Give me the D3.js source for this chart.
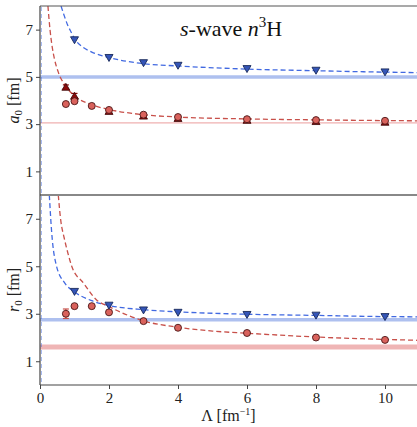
<!DOCTYPE html>
<html lang="en">
<head>
<meta charset="UTF-8">
<title>s-wave n3H</title>
<script src="https://d3js.org/d3.v7.min.js"></script>
<style>
    body { margin: 0; background: #fff; }
    .tick text { font-size: 14px; fill: #222; }
    .tick line { stroke: #444; }
</style>
</head>
<body>
<svg width="417" height="427"></svg>
<script>
    // cutoff values of the points
    const lamA = [0.75, 1, 1.5, 2, 3, 4, 6, 8, 10];
    const lamB = [1, 2, 3, 4, 6, 8, 10];
    const lamT = [0.75, 1, 2, 3, 4, 6, 8, 10];

    // top panel: a0
    const a0Blue = [6.55, 5.8, 5.58, 5.47, 5.33, 5.26, 5.19];
    const a0Red = [3.85, 3.97, 3.77, 3.6, 3.4, 3.3, 3.21, 3.17, 3.14];
    const a0DarkRed = [4.58, 4.2, 3.56, 3.36, 3.26, 3.18, 3.13, 3.1];
    const a0DarkRedErr = [0.08, 0.1, 0, 0, 0, 0, 0, 0];
    const a0BlueBand = 5.0;
    const a0RedLine = 3.05;

    // bottom panel: r0
    const r0Blue = [3.92, 3.34, 3.14, 3.04, 2.95, 2.92, 2.86];
    const r0Red = [3.0, 3.32, 3.32, 3.06, 2.69, 2.41, 2.19, 2.0, 1.9];
    const r0RedErr = [0.2, 0, 0, 0, 0, 0, 0, 0, 0];
    const r0BlueBand = 2.75;
    const r0RedBand = 1.6;

    // dashed fit curves
    const a0BlueCurveL = [0.61, 0.7, 0.8, 0.9, 1, 1.25, 1.5, 2, 3, 4, 6, 8, 10, 11];
    const a0BlueCurveV = [8.0, 7.6, 7.2, 6.9, 6.62, 6.25, 6.05, 5.82, 5.56, 5.46, 5.33, 5.26, 5.2, 5.18];
    const a0RedCurveL = [0.23, 0.29, 0.35, 0.42, 0.53, 0.75, 1, 1.5, 2, 3, 4, 6, 8, 10, 11];
    const a0RedCurveV = [8.0, 7.0, 6.3, 5.75, 5.2, 4.6, 4.2, 3.82, 3.62, 3.4, 3.3, 3.22, 3.18, 3.15, 3.14];
    const r0BlueCurveL = [0.27, 0.34, 0.48, 0.72, 1, 1.5, 2, 3, 4, 6, 8, 10, 11];
    const r0BlueCurveV = [8.0, 6.4, 5.0, 4.29, 3.92, 3.55, 3.35, 3.17, 3.08, 2.98, 2.93, 2.88, 2.87];
    const r0RedCurveL = [0.53, 0.6, 0.7, 0.8, 0.92, 1.26, 1.64, 2, 3, 4, 5, 6, 8, 10, 11];
    const r0RedCurveV = [8.0, 6.95, 6.2, 5.6, 5.0, 4.29, 3.58, 3.3, 2.7, 2.43, 2.27, 2.18, 2.02, 1.92, 1.88];

    const xTicks = [0, 2, 4, 6, 8, 10];
    const yTicks = [1, 3, 5, 7];

    const serif = "'Liberation Serif', 'DejaVu Serif', serif";
    const blue = "#4169e1", blueFill = "#3455b8", blueEdge = "#1a2a5a";
    const red = "#c8504a", redFill = "#d9625c", redEdge = "#4a1515";
    const darkRed = "#8b0a0a";

    const svg = d3.select("svg");
    const left = 40, right = 419.5;

    const x = d3.scaleLinear().domain([0, 11]).range([left, right]);
    const yTop = d3.scaleLinear().domain([0, 8]).range([195, 6]);
    const yBot = d3.scaleLinear().domain([0, 8]).range([385, 195]);

    // clip paths
    const defs = svg.append("defs");
    defs.append("clipPath").attr("id", "clipTop").append("rect")
        .attr("x", left).attr("y", 6).attr("width", 417 - left).attr("height", 189);
    defs.append("clipPath").attr("id", "clipBot").append("rect")
        .attr("x", left).attr("y", 195).attr("width", 417 - left).attr("height", 190);

    function tri(cx, cy, s, down) {
        const h = s * 0.87;
        if (down) return `M${cx - s / 2},${cy - h / 2}L${cx + s / 2},${cy - h / 2}L${cx},${cy + h / 2}Z`;
        return `M${cx - s / 2},${cy + h / 2}L${cx + s / 2},${cy + h / 2}L${cx},${cy - h / 2}Z`;
    }

    function drawPanel(y, clipId, p) {
        const g = svg.append("g").attr("clip-path", `url(#${clipId})`);

        // reference bands
        p.bands.forEach(b => {
            g.append("line")
                .attr("x1", left).attr("x2", 417)
                .attr("y1", y(b.v)).attr("y2", y(b.v))
                .attr("stroke", b.color).attr("stroke-width", b.w);
        });

        // faint dashed line along the spine
        g.append("line")
            .attr("x1", left + 1.5).attr("x2", left + 1.5)
            .attr("y1", 0).attr("y2", 427)
            .attr("stroke", blue).attr("stroke-width", 1).attr("stroke-dasharray", "4,3")
            .attr("opacity", 0.45);

        // fit curves
        const line = d3.line().x(d => x(d[0])).y(d => y(d[1])).curve(d3.curveMonotoneX);
        p.curves.forEach(c => {
            g.append("path")
                .datum(d3.zip(c.l, c.v))
                .attr("d", line)
                .attr("fill", "none")
                .attr("stroke", c.color)
                .attr("stroke-width", 1.3)
                .attr("stroke-dasharray", "5,3");
        });

        // error bars
        p.errs.forEach(e => {
            e.l.forEach((l, i) => {
                if (!e.err[i]) return;
                const cx = x(l);
                const y1 = y(e.v[i] - e.err[i]), y2 = y(e.v[i] + e.err[i]);
                g.append("line").attr("x1", cx).attr("x2", cx).attr("y1", y1).attr("y2", y2)
                    .attr("stroke", e.color).attr("stroke-width", 1.2);
                [y1, y2].forEach(yy => g.append("line")
                    .attr("x1", cx - 3).attr("x2", cx + 3).attr("y1", yy).attr("y2", yy)
                    .attr("stroke", e.color).attr("stroke-width", 1.2));
            });
        });

        // markers
        if (p.darkTri) {
            g.selectAll(".dtri").data(d3.zip(p.darkTri.l, p.darkTri.v)).enter()
                .append("path")
                .attr("d", d => tri(x(d[0]), y(d[1]), 8, false))
                .attr("fill", darkRed).attr("stroke", "#3a0505").attr("stroke-width", 0.8);
        }
        g.selectAll(".circ").data(d3.zip(p.circles.l, p.circles.v)).enter()
            .append("circle")
            .attr("cx", d => x(d[0])).attr("cy", d => y(d[1])).attr("r", 3.5)
            .attr("fill", redFill).attr("stroke", redEdge).attr("stroke-width", 0.9);
        g.selectAll(".btri").data(d3.zip(p.tris.l, p.tris.v)).enter()
            .append("path")
            .attr("d", d => tri(x(d[0]), y(d[1]), 8, true))
            .attr("fill", blueFill).attr("stroke", blueEdge).attr("stroke-width", 0.9);

        // y axis
        const ax = svg.append("g").attr("transform", `translate(${left},0)`)
            .call(d3.axisLeft(y).tickValues(yTicks).tickSize(4).tickPadding(3).tickFormat(d3.format("d")));
        ax.selectAll("text").style("font-family", serif).style("font-size", "15px");
        ax.select(".domain").remove();

        // y label
        const lab = svg.append("text")
            .attr("transform", `translate(19,${(y(0) + y(8)) / 2}) rotate(-90)`)
            .attr("text-anchor", "middle")
            .style("font-family", serif)
            .attr("font-size", 16).attr("fill", "#222");
        lab.append("tspan").attr("font-style", "italic").text(p.sym);
        lab.append("tspan").attr("font-size", 11).attr("dy", 3).text("0");
        lab.append("tspan").attr("dy", -3).text(" [fm]");
    }

    drawPanel(yTop, "clipTop", {
        sym: "a",
        bands: [{ v: a0BlueBand, color: "#aec0ef", w: 3.5 }, { v: a0RedLine, color: "#efb0b0", w: 1.2 }],
        curves: [
            { l: a0BlueCurveL, v: a0BlueCurveV, color: blue },
            { l: a0RedCurveL, v: a0RedCurveV, color: red }
        ],
        errs: [{ l: lamT, v: a0DarkRed, err: a0DarkRedErr, color: darkRed }],
        darkTri: { l: lamT, v: a0DarkRed },
        circles: { l: lamA, v: a0Red },
        tris: { l: lamB, v: a0Blue }
    });

    drawPanel(yBot, "clipBot", {
        sym: "r",
        bands: [{ v: r0BlueBand, color: "#aec0ef", w: 3.5 }, { v: r0RedBand, color: "#efb5b5", w: 5 }],
        curves: [
            { l: r0BlueCurveL, v: r0BlueCurveV, color: blue },
            { l: r0RedCurveL, v: r0RedCurveV, color: red }
        ],
        errs: [{ l: lamA, v: r0Red, err: r0RedErr, color: red }],
        darkTri: null,
        circles: { l: lamA, v: r0Red },
        tris: { l: lamB, v: r0Blue }
    });

    // frame lines
    svg.append("line").attr("x1", left).attr("x2", 417).attr("y1", 6).attr("y2", 6)
        .attr("stroke", "#555").attr("stroke-width", 1.2);
    svg.append("line").attr("x1", left).attr("x2", 417).attr("y1", 195).attr("y2", 195)
        .attr("stroke", "#888").attr("stroke-width", 1.8);
    svg.append("line").attr("x1", left).attr("x2", left).attr("y1", 6).attr("y2", 385)
        .attr("stroke", "#444").attr("stroke-width", 1.2);

    // x axis
    const xa = svg.append("g").attr("transform", "translate(0,385)")
        .call(d3.axisBottom(x).tickValues(xTicks).tickSize(4).tickPadding(3));
    xa.selectAll("text").style("font-family", serif).style("font-size", "15px");
    xa.select(".domain").attr("stroke", "#444").attr("stroke-width", 1.2)
        .attr("d", `M${left},0H417`);

    const xl = svg.append("text")
        .attr("x", (left + 417) / 2).attr("y", 421)
        .style("font-family", serif)
        .attr("text-anchor", "middle").attr("font-size", 16).attr("fill", "#222");
    xl.append("tspan").text("\u039B [fm");
    xl.append("tspan").attr("font-size", 10).attr("dy", -6).text("\u22121");
    xl.append("tspan").attr("dy", 6).text("]");

    // title
    const t = svg.append("text").attr("x", 180).attr("y", 36)
        .style("font-family", serif)
        .attr("font-size", 22).attr("fill", "#111");
    t.append("tspan").attr("font-style", "italic").text("s");
    t.append("tspan").text("-wave ");
    t.append("tspan").attr("font-style", "italic").text("n");
    t.append("tspan").attr("font-size", 15).attr("dy", -9).text("3");
    t.append("tspan").attr("dy", 9).text("H");
</script>
</body>
</html>
